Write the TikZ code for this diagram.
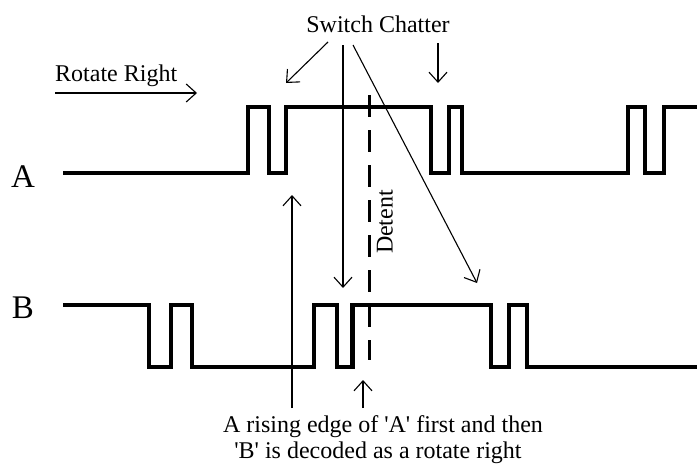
\documentclass[tikz,border=0pt]{standalone}
\usepackage{fontspec}
\setmainfont{Liberation Serif}
\usetikzlibrary{arrows.meta}
\begin{document}
\begin{tikzpicture}[x=1pt,y=-1pt,
  sig/.style={line width=4.5pt, line join=miter, line cap=butt},
  ann/.style={line width=1.1pt, -{Straight Barb[length=10pt,width=18pt,line width=1.1pt]}},
  lbl/.style={font=\fontsize{24}{26}\selectfont, inner sep=0pt},
  big/.style={font=\fontsize{33}{36}\selectfont, inner sep=0pt},
  detline/.style={line width=3pt, dash pattern=on 22pt off 13pt}]
\useasboundingbox (0,0) rectangle (697,471);
% labels
\node[lbl, anchor=base] (sc) at (378,32) {Switch Chatter};
\node[lbl, anchor=base west] (rr) at (55,81) {Rotate Right};
\node[big, anchor=base] (la) at (23,187) {A};
\node[big, anchor=base] (lb) at (23,318) {B};
\node[lbl, rotate=90] (det) at (385,222) {Detent};
\node[lbl, anchor=base] (txt1) at (383,432) {A rising edge of \textquotesingle A\textquotesingle{} first and then};
\node[lbl, anchor=base] (txt2) at (378,458) {\textquotesingle B\textquotesingle{} is decoded as a rotate right};
% signal A
\draw[sig] (63,173) -- (248,173) -- (248,107) -- (269,107) -- (269,173) -- (286,173) -- (286,107)
  -- (431,107) -- (431,173) -- (449,173) -- (449,107) -- (462,107) -- (462,173) -- (628,173)
  -- (628,107) -- (645,107) -- (645,173) -- (664,173) -- (664,107) -- (697,107);
% signal B
\draw[sig] (63,305) -- (149,305) -- (149,367) -- (171,367) -- (171,305) -- (192,305) -- (192,367)
  -- (314,367) -- (314,305) -- (337,305) -- (337,367) -- (352.5,367) -- (352.5,305) -- (491,305)
  -- (491,367) -- (509,367) -- (509,305) -- (527,305) -- (527,367) -- (697,367);
% detent line
\coordinate (dt) at (369,95);
\coordinate (db) at (369,360);
\draw[detline] (dt) -- (db);
% annotation arrows
\coordinate (c1s) at (328,42); \coordinate (c1e) at (286,83);
\coordinate (c2s) at (343,45); \coordinate (c2e) at (343,288);
\coordinate (c3s) at (353,45); \coordinate (c3e) at (477,283);
\coordinate (c4s) at (438,43); \coordinate (c4e) at (438,83);
\coordinate (rrs) at (55,93);  \coordinate (rre) at (197,93);
\coordinate (u1s) at (292,408); \coordinate (u1e) at (292,195);
\coordinate (u2s) at (363,408); \coordinate (u2e) at (363,380);
\draw[ann] (c1s) -- (c1e);
\draw[ann] (c2s) -- (c2e);
\draw[ann] (c3s) -- (c3e);
\draw[ann] (c4s) -- (c4e);
\draw[ann] (rrs) -- (rre);
\draw[ann] (u1s) -- (u1e);
\draw[ann] (u2s) -- (u2e);
\end{tikzpicture}
\end{document}
